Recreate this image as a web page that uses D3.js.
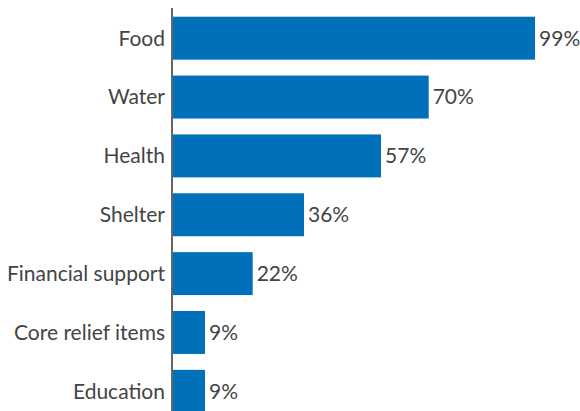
<!DOCTYPE html>
<html><head><meta charset="utf-8">
<script src="https://cdn.jsdelivr.net/npm/d3@7"></script>
<style>html,body{margin:0;padding:0;background:#fff;}svg{display:block;}</style>
</head><body>
<svg id="chart" width="580" height="411"></svg>
<script>
const categories = ["Food","Water","Health","Shelter","Financial support","Core relief items","Education"];
const values = [99,70,57,36,22,9,9];

const svg = d3.select("#chart");
const x0 = 172;
const x = d3.scaleLinear().domain([0,100]).range([x0, x0 + 366.7]);
const y = d3.scaleBand().domain(categories).range([16.7, 412.8]).paddingInner(0.27).paddingOuter(0);
const font = "Lato, 'Open Sans', sans-serif";

svg.selectAll("rect.bar").data(values).enter().append("rect")
  .attr("class","bar")
  .attr("x", x(0))
  .attr("y", (d,i)=>y(categories[i]))
  .attr("width", d=>x(d)-x(0))
  .attr("height", y.bandwidth())
  .attr("fill","#0070ba");

svg.append("line").attr("x1",x0).attr("x2",x0).attr("y1",8).attr("y2",411)
  .attr("stroke","#666").attr("stroke-width",2);

svg.selectAll("text.cat").data(categories).enter().append("text")
  .attr("x", x0-7)
  .attr("y", d=>y(d)+y.bandwidth()/2)
  .attr("dy","0.35em")
  .attr("text-anchor","end")
  .attr("font-family",font).attr("font-size",21).attr("fill","#444")
  .text(d=>d);

svg.selectAll("text.val").data(values).enter().append("text")
  .attr("x", d=>x(d)+4)
  .attr("y", (d,i)=>y(categories[i])+y.bandwidth()/2)
  .attr("dy","0.35em")
  .attr("font-family",font).attr("font-size",21).attr("fill","#444")
  .text(d=>d+"%");
</script>
</body></html>
